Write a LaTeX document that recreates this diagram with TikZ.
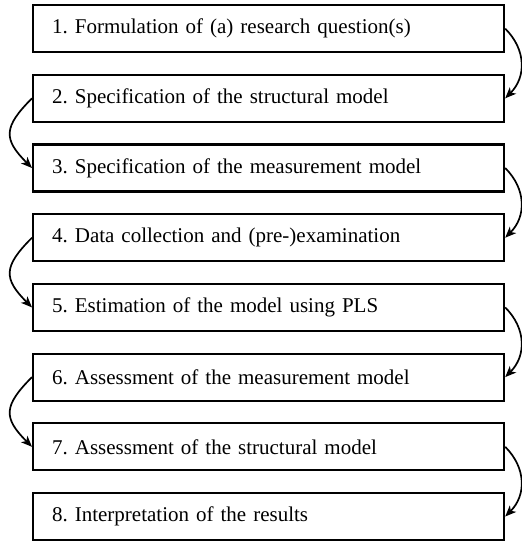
\documentclass[tikz,border=0pt]{standalone}
\usepackage{fontspec}
\setmainfont{Liberation Serif}
\usetikzlibrary{arrows.meta}
\begin{document}
\frenchspacing
\begin{tikzpicture}[x=1pt,y=-1pt,
  stepbox/.style={draw, line width=2.2pt, anchor=north west,
    minimum width=471pt, minimum height=47pt, text width=433pt,
    inner xsep=19pt, inner ysep=0pt, align=left,
    font=\fontsize{21}{24}\selectfont},
  flow/.style={line width=1.7pt, -{Stealth[length=11pt,width=9pt,inset=3pt]}},
  rightloop/.style={flow, out=-45, in=45, looseness=1.1},
  leftloop/.style={flow, out=-135, in=135, looseness=1.5}]
\useasboundingbox (0,0) rectangle (522,541);

% the eight process steps
\node[stepbox] (s1) at (32,4)     {1. Formulation of (a) research question(s)};
\node[stepbox] (s2) at (32,73.7)  {2. Specification of the structural model};
\node[stepbox] (s3) at (32,143.4) {3. Specification of the measurement model};
\node[stepbox] (s4) at (32,213.1) {4. Data collection and (pre-)examination};
\node[stepbox] (s5) at (32,282.8) {5. Estimation of the model using PLS};
\node[stepbox] (s6) at (32,352.5) {6. Assessment of the measurement model};
\node[stepbox] (s7) at (32,422.2) {7. Assessment of the structural model};
\node[stepbox] (s8) at (32,491.9) {8. Interpretation of the results};

% alternating curved links between consecutive steps
\draw[rightloop] (s1.east) to (s2.east);
\draw[leftloop]  (s2.west) to (s3.west);
\draw[rightloop] (s3.east) to (s4.east);
\draw[leftloop]  (s4.west) to (s5.west);
\draw[rightloop] (s5.east) to (s6.east);
\draw[leftloop]  (s6.west) to (s7.west);
\draw[rightloop] (s7.east) to (s8.east);
\end{tikzpicture}
\end{document}
